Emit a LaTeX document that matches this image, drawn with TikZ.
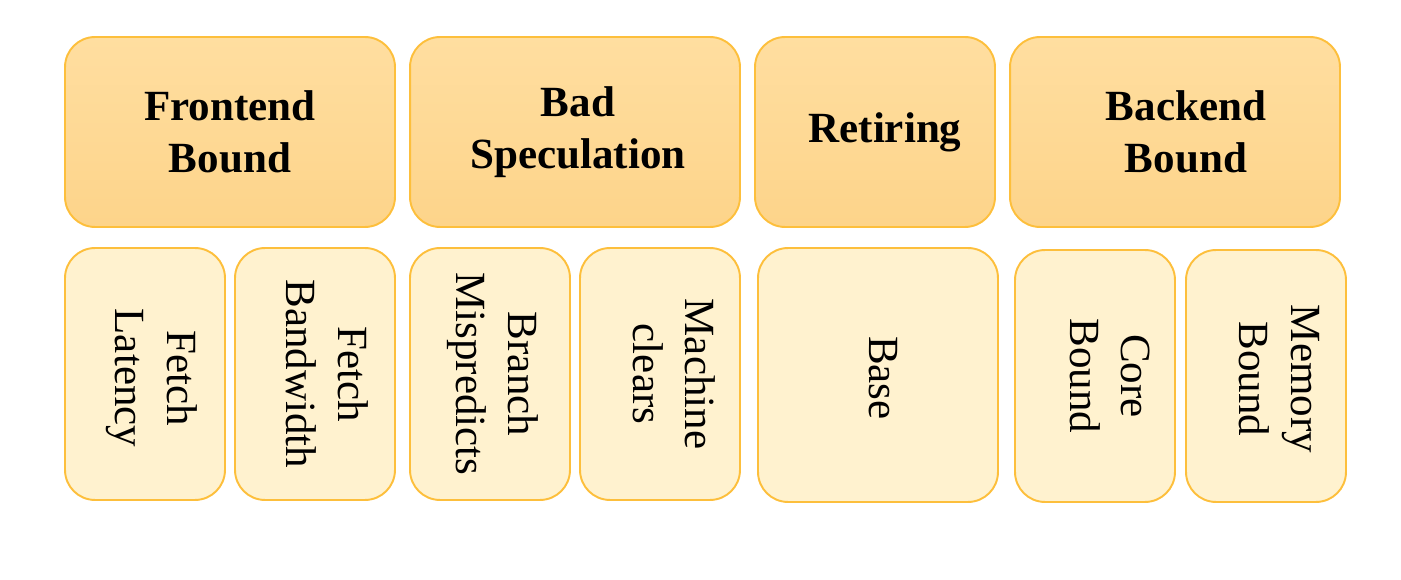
\documentclass[tikz,border=0pt]{standalone}
\usepackage{fontspec}
\setmainfont{Liberation Serif}
\usepackage{tikz}
\definecolor{TopHi}{HTML}{FFDEA0}
\definecolor{TopLo}{HTML}{FDD48A}
\definecolor{SubFill}{HTML}{FFF2CF}
\definecolor{Rim}{HTML}{FDBF3C}

\begin{document}
\begin{tikzpicture}[x=0.02cm,y=-0.02cm,
        group/.style={draw=Rim,line width=1.1pt,rounded corners=0.6cm,
            top color=TopHi,bottom color=TopLo,minimum height=3.8cm},
        sub/.style={draw=Rim,line width=1.1pt,rounded corners=0.6cm,
            fill=SubFill,minimum width=3.2cm,minimum height=5.04cm},
        grouptxt/.style={align=center,font=\fontsize{24.5}{29.5}\selectfont\bfseries},
        subtxt/.style={align=center,rotate=-90,font=\fontsize{24.5}{29.5}\selectfont}]
            \useasboundingbox (0,0) rectangle (1401,580);
            % top level
            \node[group,minimum width=6.6cm] (fe) at (230,132) {};
            \node[group,minimum width=6.6cm] (bs) at (575,132) {};
            \node[group,minimum width=4.8cm] (ret) at (875,132) {};
            \node[group,minimum width=6.6cm] (be) at (1175,132) {};
            \node[grouptxt] (fe-t) at (fe.center) {Frontend\\Bound};
            \node[grouptxt] (bs-t) at ([xshift=0.06cm]bs.center) {Bad\\Speculation};
            \node[grouptxt] (ret-t) at ([xshift=0.2cm]ret.center) {Retiring};
            \node[grouptxt] (be-t) at ([xshift=0.22cm]be.center) {Backend\\Bound};
            % second level
            \node[sub] (fl) at (145,374) {};
            \node[sub] (fb) at (315,374) {};
            \node[sub] (bm) at (490,374) {};
            \node[sub] (mc) at (660,374) {};
            \node[sub,minimum width=4.8cm,minimum height=5.08cm] (base) at (878,375) {};
            \node[sub] (cb) at (1095,376) {};
            \node[sub] (mb) at (1266,376) {};
            \node[subtxt] (fl-t) at ([xshift=0.14cm,yshift=-0.08cm]fl.center) {Fetch\\Latency};
            \node[subtxt] (fb-t) at ([xshift=0.24cm]fb.center) {Fetch\\Bandwidth};
            \node[subtxt] (bm-t) at ([xshift=0.06cm]bm.center) {Branch\\Mispredicts};
            \node[subtxt] (mc-t) at ([xshift=0.28cm]mc.center) {Machine\\clears};
            \node[subtxt] (base-t) at ([xshift=0.1cm,yshift=-0.06cm]base.center) {Base};
            \node[subtxt] (cb-t) at ([xshift=0.3cm]cb.center) {Core\\Bound};
            \node[subtxt] (mb-t) at ([xshift=0.26cm,yshift=-0.06cm]mb.center) {Memory\\Bound};
        \end{tikzpicture}
\end{document}
